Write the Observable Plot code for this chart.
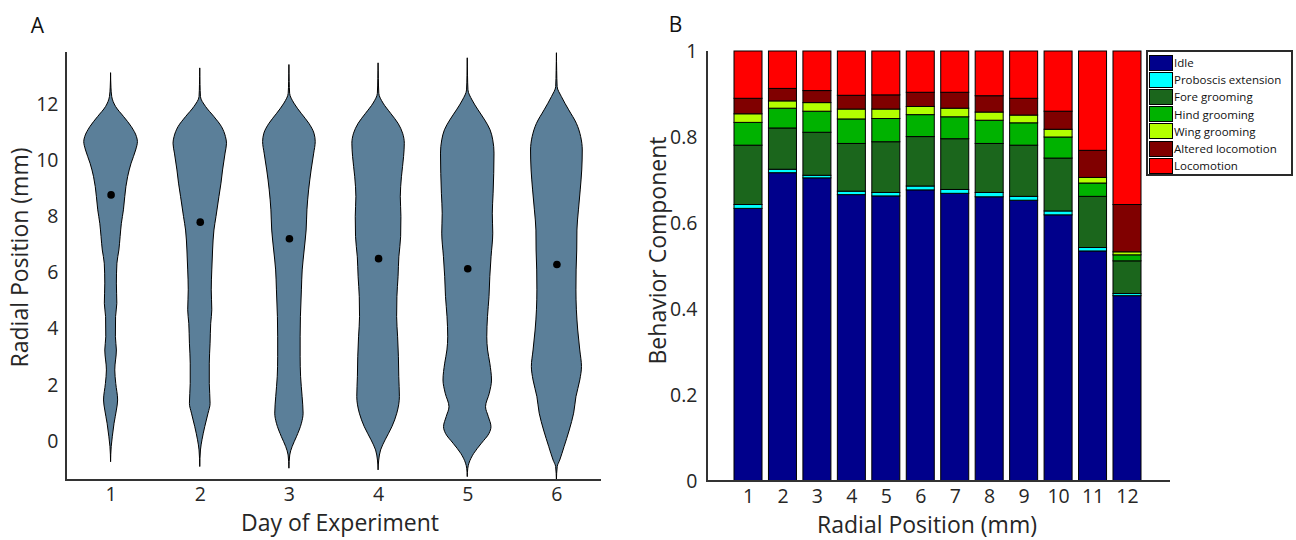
<!DOCTYPE html>
<html>
<head>
<meta charset="utf-8">
<script src="https://cdn.jsdelivr.net/npm/d3@7"></script>
<script src="https://cdn.jsdelivr.net/npm/@observablehq/plot@0.6"></script>
<style>
  html, body { margin: 0; padding: 0; background: #fff; }
  #wrap { position: relative; width: 1296px; height: 540px; overflow: hidden; font-family: "Open Sans", sans-serif; }
  #left { position: absolute; left: 0; top: 0; }
  #right { position: absolute; left: 640px; top: 0; }
  #legend { position: absolute; left: 1146px; top: 50px; width: 142px; height: 120px; border: 2px solid #2a2a2a; background: #fff; padding: 2px 0 0 1px; box-sizing: content-box; }
  .item { display: flex; align-items: center; height: 17.2px; font-size: 11.5px; color: #111; }
  .sw { width: 22px; height: 14px; border: 1px solid #000; margin-right: 1px; flex: none; }
</style>
</head>
<body>
<div id="wrap">
  <div id="left"></div>
  <div id="right"></div>
  <div id="legend"></div>
</div>
<script>
// ---------- Panel A data ----------
const days = [1, 2, 3, 4, 5, 6];
const dayMeans = [8.78, 7.81, 7.22, 6.51, 6.15, 6.30];
const radialTicks = [0, 2, 4, 6, 8, 10, 12];
// violin profiles: [radial position (mm), half-width (in day units)]
const violinDay1 = [[13.1,0],[12.6,0.004],[12.26,0.013],[11.91,0.056],[11.55,0.146],[11.19,0.233],[10.84,0.290],[10.66,0.301],[10.36,0.281],[9.89,0.230],[9.41,0.191],[9.06,0.172],[8.70,0.159],[8.23,0.144],[7.75,0.121],[7.28,0.107],[6.80,0.093],[6.33,0.071],[5.62,0.065],[4.90,0.070],[4.43,0.056],[3.71,0.054],[3.24,0.065],[2.53,0.047],[2.05,0.058],[1.46,0.079],[1.10,0.065],[0.63,0.039],[0.15,0.019],[-0.2,0.007],[-0.74,0]];
const violinDay2 = [[13.27,0],[12.7,0.003],[12.26,0.008],[11.91,0.065],[11.55,0.159],[11.19,0.244],[10.84,0.288],[10.60,0.300],[10.25,0.284],[9.65,0.256],[9.18,0.238],[8.70,0.215],[7.99,0.182],[7.51,0.159],[6.80,0.144],[6.09,0.135],[5.38,0.129],[4.67,0.135],[4.19,0.123],[3.48,0.116],[2.77,0.107],[2.05,0.107],[1.34,0.116],[0.99,0.093],[0.51,0.056],[0.04,0.025],[-0.32,0.008],[-0.91,0]];
const violinDay3 = [[13.39,0],[12.8,0.003],[12.38,0.008],[12.03,0.056],[11.67,0.137],[11.31,0.224],[10.96,0.281],[10.66,0.295],[10.25,0.278],[9.65,0.249],[8.94,0.221],[8.23,0.202],[7.51,0.193],[6.80,0.171],[6.09,0.149],[5.38,0.140],[4.43,0.129],[3.71,0.126],[3.00,0.126],[2.29,0.131],[1.58,0.148],[0.99,0.159],[0.63,0.140],[0.15,0.084],[-0.20,0.036],[-0.50,0.009],[-0.97,0]];
const violinDay4 = [[13.45,0],[12.9,0.003],[12.38,0.008],[12.03,0.056],[11.67,0.140],[11.31,0.224],[10.96,0.275],[10.60,0.294],[10.13,0.286],[9.41,0.262],[8.70,0.249],[7.99,0.256],[7.28,0.253],[6.56,0.233],[5.85,0.224],[5.14,0.211],[4.43,0.208],[3.71,0.219],[3.00,0.228],[2.29,0.232],[1.58,0.239],[0.99,0.210],[0.51,0.155],[0.04,0.079],[-0.32,0.028],[-0.68,0.007],[-1.03,0]];
const violinDay5 = [[13.63,0],[13.0,0.003],[12.5,0.008],[12.14,0.054],[11.79,0.121],[11.43,0.196],[11.08,0.256],[10.72,0.286],[10.25,0.300],[9.53,0.297],[8.82,0.290],[8.11,0.281],[7.40,0.286],[6.56,0.267],[5.85,0.253],[5.14,0.244],[4.43,0.227],[3.71,0.219],[3.24,0.228],[2.77,0.253],[2.17,0.272],[1.70,0.247],[1.22,0.205],[0.87,0.236],[0.51,0.266],[0.27,0.244],[-0.08,0.159],[-0.44,0.073],[-0.79,0.019],[-0.97,0.006],[-1.27,0]];
const violinDay6 = [[13.81,0],[13.2,0.003],[12.62,0.008],[12.26,0.056],[11.79,0.138],[11.31,0.224],[10.84,0.272],[10.36,0.290],[9.65,0.284],[8.94,0.267],[8.23,0.247],[7.51,0.230],[6.80,0.228],[6.09,0.221],[5.38,0.219],[4.67,0.224],[3.95,0.239],[3.24,0.262],[2.65,0.281],[2.17,0.262],[1.58,0.219],[0.99,0.193],[0.39,0.144],[-0.20,0.086],[-0.68,0.037],[-0.91,0.009],[-1.39,0]];
const violinProfiles = [violinDay1, violinDay2, violinDay3, violinDay4, violinDay5, violinDay6];

// ---------- Panel B data ----------
const positions = [1, 2, 3, 4, 5, 6, 7, 8, 9, 10, 11, 12];
const behaviors = ["Idle", "Proboscis extension", "Fore grooming", "Hind grooming", "Wing grooming", "Altered locomotion", "Locomotion"];
const behaviorColors = ["#00008b", "#00ffff", "#1b661c", "#00b200", "#b3ff00", "#800000", "#ff0000"];
const idle       = [0.634, 0.717, 0.705, 0.666, 0.663, 0.677, 0.669, 0.661, 0.653, 0.619, 0.535, 0.431];
const proboscis  = [0.009, 0.008, 0.006, 0.008, 0.008, 0.009, 0.009, 0.010, 0.009, 0.009, 0.008, 0.005];
const foreGroom  = [0.138, 0.096, 0.100, 0.111, 0.118, 0.115, 0.118, 0.114, 0.119, 0.123, 0.119, 0.076];
const hindGroom  = [0.053, 0.046, 0.049, 0.057, 0.054, 0.051, 0.051, 0.054, 0.052, 0.049, 0.031, 0.014];
const wingGroom  = [0.020, 0.017, 0.020, 0.023, 0.022, 0.019, 0.020, 0.019, 0.018, 0.018, 0.013, 0.007];
const alteredLoc = [0.036, 0.029, 0.028, 0.032, 0.033, 0.033, 0.037, 0.038, 0.039, 0.042, 0.063, 0.110];
const locomotion = [0.110, 0.087, 0.092, 0.103, 0.102, 0.096, 0.096, 0.104, 0.110, 0.140, 0.231, 0.357];
const componentTicks = [0, 0.2, 0.4, 0.6, 0.8, 1];

const FONT = '"Open Sans", sans-serif';

// ---------- derived tables ----------
const violinRows = violinProfiles.flatMap((prof, i) => prof.map(([y, w]) => ({day: days[i], y, w})));
const meanRows = days.map((d, i) => ({day: d, mean: dayMeans[i]}));
const seriesValues = [idle, proboscis, foreGroom, hindGroom, wingGroom, alteredLoc, locomotion];
const barRows = behaviors.flatMap((b, j) => positions.map((p, i) => ({pos: p, behavior: b, value: seriesValues[j][i]})));

// axis spines (left + bottom) drawn along the frame edges
function spines(stroke, sw) {
  return (index, scales, values, dims) => {
    const {width, height, marginLeft, marginRight, marginTop, marginBottom} = dims;
    const g = d3.create("svg:g").attr("stroke", stroke).attr("stroke-width", sw).attr("fill", "none");
    g.append("line").attr("x1", marginLeft).attr("x2", marginLeft).attr("y1", marginTop).attr("y2", height - marginBottom + sw / 2);
    g.append("line").attr("x1", marginLeft - sw / 2).attr("x2", width - marginRight).attr("y1", height - marginBottom).attr("y2", height - marginBottom);
    return g.node();
  };
}

const titleStyle = {fontSize: 23, fill: "#262626", textAnchor: "middle", lineAnchor: "middle"};

const left = Plot.plot({
  width: 640, height: 540,
  marginLeft: 66, marginRight: 39, marginTop: 52, marginBottom: 60,
  style: {fontFamily: FONT, fontSize: "19.5px", color: "#262626", background: "transparent"},
  x: {domain: [0.5, 6.5], ticks: days, tickFormat: d => String(d), tickSize: 0, tickPadding: 7, label: null},
  y: {domain: [-1.39, 13.85], ticks: radialTicks, tickFormat: d => String(d), tickSize: 0, tickPadding: 8, label: null},
  marks: [
    Plot.areaX(violinRows, {y: "y", x1: d => d.day - d.w, x2: d => d.day + d.w, z: "day", fill: "#5b7f99", stroke: "#000", strokeWidth: 1, curve: "monotone-y"}),
    Plot.dot(meanRows, {x: "day", y: "mean", r: 3.8, fill: "#000", stroke: "none"}),
    spines("#333", 2),
    Plot.text(["Radial Position (mm)"], {...titleStyle, frameAnchor: "left", dx: -46, dy: -9, rotate: -90}),
    Plot.text(["Day of Experiment"], {...titleStyle, frameAnchor: "bottom", dx: 6, dy: 43}),
    Plot.text(["A"], {frameAnchor: "top-left", dx: -29, dy: -26, fontSize: 21, fill: "#111", textAnchor: "middle", lineAnchor: "middle"})
  ]
});
document.getElementById("left").appendChild(left);

const right = Plot.plot({
  width: 656, height: 540,
  marginLeft: 67, marginRight: 126, marginTop: 51, marginBottom: 59,
  style: {fontFamily: FONT, fontSize: "19.5px", color: "#262626", background: "transparent"},
  x: {type: "band", domain: positions, range: [94, 501], paddingInner: 0.187, paddingOuter: 0, round: false, tickSize: 0, tickPadding: 8, label: null},
  y: {domain: [0, 1], ticks: componentTicks, tickFormat: d => String(d), tickSize: 0, tickPadding: 10, label: null},
  color: {domain: behaviors, range: behaviorColors},
  marks: [
    Plot.barY(barRows, {x: "pos", y: "value", fill: "behavior", stroke: "#000", strokeWidth: 1}),
    spines("#333", 2),
    Plot.text(["Behavior Component"], {...titleStyle, frameAnchor: "left", dx: -49, dy: -16, rotate: -90}),
    Plot.text(["Radial Position (mm)"], {...titleStyle, frameAnchor: "bottom", dx: -12, dy: 44}),
    Plot.text(["B"], {frameAnchor: "top-left", dx: -32, dy: -26, fontSize: 21, fill: "#111", textAnchor: "middle", lineAnchor: "middle"})
  ]
});
document.getElementById("right").appendChild(right);

// legend
const legend = document.getElementById("legend");
behaviors.forEach((b, i) => {
  const row = document.createElement("div");
  row.className = "item";
  const sw = document.createElement("div");
  sw.className = "sw";
  sw.style.background = behaviorColors[i];
  const lab = document.createElement("span");
  lab.textContent = b;
  row.appendChild(sw);
  row.appendChild(lab);
  legend.appendChild(row);
});
</script>
</body>
</html>
